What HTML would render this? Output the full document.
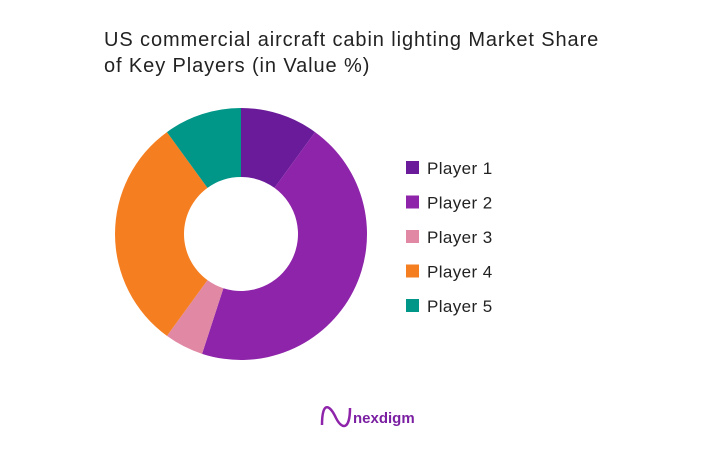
<!DOCTYPE html>
<html><head><meta charset="utf-8"><style>
body{margin:0;background:#fff;font-family:"Liberation Sans",sans-serif}
#wrap{position:relative;width:728px;height:462px;overflow:hidden}
.title{position:absolute;left:104px;top:27px;font-size:20px;letter-spacing:0.9px;line-height:26px;color:#222}
</style></head><body>
<div id="wrap">
<div class="title">US commercial aircraft cabin lighting Market Share<br>of Key Players (in Value %)</div>
<svg id="svg" width="728" height="462" style="position:absolute;left:0;top:0">
<g id="slices"></g><g id="legend"></g>
<g>
<path d="M322 425 C322 400 330 405 336 418 C342 430 350 430 350 408" stroke="#8e24aa" stroke-width="2.5" fill="none"/>
<text x="353" y="423" font-size="15" font-weight="bold" fill="#7b1fa2" font-family="Liberation Sans, sans-serif">nexdigm</text>
</g>
</svg>
</div>
<script>
const categories=["Player 1","Player 2","Player 3","Player 4","Player 5"];
const values=[10,45,5,30,10];
const colors=["#6a1b9a","#8e24aa","#e088a4","#f57f20","#009688"];
const ns="http://www.w3.org/2000/svg";
const cx=241,cy=234,R=126,r=57;
const total=values.reduce((a,b)=>a+b,0);
let a0=0;
const gs=document.getElementById('slices');
function pt(a,rad){return [cx+rad*Math.sin(a),cy-rad*Math.cos(a)];}
values.forEach((v,i)=>{
 const a1=a0+v/total*2*Math.PI;
 const lg=(a1-a0)>Math.PI?1:0;
 const [x0,y0]=pt(a0,R),[x1,y1]=pt(a1,R),[x2,y2]=pt(a1,r),[x3,y3]=pt(a0,r);
 const p=document.createElementNS(ns,'path');
 p.setAttribute('d',`M${x0} ${y0}A${R} ${R} 0 ${lg} 1 ${x1} ${y1}L${x2} ${y2}A${r} ${r} 0 ${lg} 0 ${x3} ${y3}Z`);
 p.setAttribute('fill',colors[i]);
 
 
 gs.appendChild(p);
 a0=a1;
});
const gl=document.getElementById('legend');
categories.forEach((c,i)=>{
 const y=168+i*34.5;
 const g=document.createElementNS(ns,'g');
 
 
 const rc=document.createElementNS(ns,'rect');
 rc.setAttribute('x',406);rc.setAttribute('y',y-7);rc.setAttribute('width',13);rc.setAttribute('height',13);rc.setAttribute('fill',colors[i]);
 const t=document.createElementNS(ns,'text');
 t.setAttribute('x',427);t.setAttribute('y',y+6);t.setAttribute('font-size',17);t.setAttribute('letter-spacing','0.4');t.setAttribute('fill','#222');
 t.textContent=c;
 g.appendChild(rc);g.appendChild(t);gl.appendChild(g);
});
</script>
</body></html>
